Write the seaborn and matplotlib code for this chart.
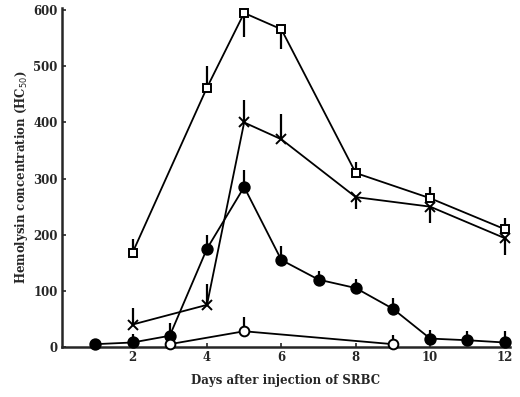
import numpy as np
import pandas as pd
import seaborn as sns
import matplotlib.pyplot as plt

# --- Data ---
sq_days = [2, 4, 5, 6, 8, 10, 12]
sq_vals = [168, 462, 595, 566, 310, 265, 210]
sq_err_lo = [0, 0, 42, 35, 0, 0, 0]
sq_err_hi = [25, 38, 0, 0, 20, 20, 20]

x_days = [2, 4, 5, 6, 8, 10, 12]
x_vals = [40, 75, 400, 370, 267, 250, 194]
x_err_lo = [0, 0, 0, 0, 22, 30, 30]
x_err_hi = [30, 38, 40, 45, 0, 0, 0]

fc_days = [1, 2, 3, 4, 5, 6, 7, 8, 9, 10, 11, 12]
fc_vals = [5, 8, 20, 175, 285, 155, 120, 105, 68, 15, 12, 8]
fc_err_lo = [0] * 12
fc_err_hi = [6, 15, 22, 25, 30, 25, 16, 16, 20, 16, 16, 20]

oc_days = [3, 5, 9]
oc_vals = [5, 28, 5]
oc_err_lo = [0, 0, 0]
oc_err_hi = [0, 25, 16]

sns.set_style("ticks")
plt.rcParams["font.family"] = ["DejaVu Serif"]

fig = plt.figure(figsize=(5.2, 3.97), dpi=100)
ax = fig.add_axes([0.119, 0.126, 0.862, 0.854])

series = [
    (sq_days, sq_vals, sq_err_lo, sq_err_hi, "s", "white", 6),
    (x_days, x_vals, x_err_lo, x_err_hi, "x", "black", 6.5),
    (fc_days, fc_vals, fc_err_lo, fc_err_hi, "o", "black", 7.5),
    (oc_days, oc_vals, oc_err_lo, oc_err_hi, "o", "white", 7),
]

for d, v, lo, hi, m, face, ms in series:
    ax.errorbar(d, v, yerr=[lo, hi], fmt="none", ecolor="black",
                elinewidth=1.6, capsize=0, zorder=2, clip_on=False)
    sns.lineplot(x=d, y=v, ax=ax, color="black", linewidth=1.3,
                 marker=m, markersize=ms, markerfacecolor=face,
                 markeredgecolor="black", markeredgewidth=1.4,
                 zorder=3, clip_on=False)

ax.set_xlim(0.1, 12.15)
ax.set_ylim(0, 604)
ax.set_xticks([2, 4, 6, 8, 10, 12])
ax.set_yticks([0, 100, 200, 300, 400, 500, 600])
ax.tick_params(direction="in", length=3, width=1.2, labelsize=8.5, pad=3)
for lab in ax.get_xticklabels() + ax.get_yticklabels():
    lab.set_fontweight("bold")

sns.despine(ax=ax)
for s in ["left", "bottom"]:
    ax.spines[s].set_linewidth(1.8)

ax.set_xlabel("Days after injection of SRBC", fontsize=8.5,
              fontweight="bold", labelpad=7)
ax.set_ylabel("Hemolysin concentration (HC$_{50}$)", fontsize=8.5,
              fontweight="bold", labelpad=2)

fig.savefig("out.png", dpi=100)
